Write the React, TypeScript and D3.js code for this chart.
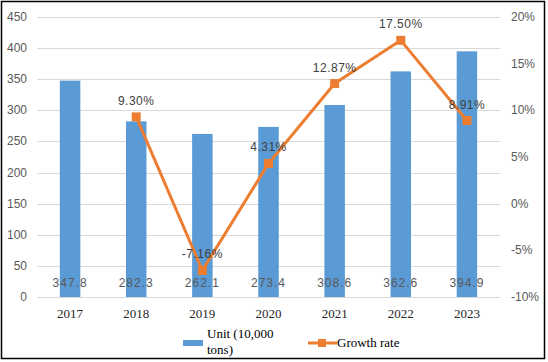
import React from 'react';
import * as d3 from 'd3';

const years = ['2017', '2018', '2019', '2020', '2021', '2022', '2023'];
const units = [347.8, 282.3, 262.1, 273.4, 308.6, 362.6, 394.9];
const growthYears = ['2018', '2019', '2020', '2021', '2022', '2023'];
const growth = [9.3, -7.16, 4.31, 12.87, 17.5, 8.91];
const leftTicks = [0, 50, 100, 150, 200, 250, 300, 350, 400, 450];
const rightTicks = [-10, -5, 0, 5, 10, 15, 20];

const width = 548;
const height = 362;
const left = 37;
const right = 500;
const top = 17;
const bottom = 297;

const barColor = '#5B9BD5';
const lineColor = '#ED7D31';
const sans = '"Liberation Sans", Arial, sans-serif';
const serif = '"Liberation Serif", "Times New Roman", serif';

const x = d3.scaleBand<string>().domain(years).range([left, right]);
const y = d3.scaleLinear().domain([0, 450]).range([bottom, top]);
const y2 = d3.scaleLinear().domain([-10, 20]).range([bottom, top]);

export default function App() {
  const gRef = React.useRef<SVGGElement>(null);

  React.useEffect(() => {
    const g = d3.select(gRef.current);
    g.selectAll('*').remove();

    // grid
    g.append('g')
      .selectAll('line')
      .data(leftTicks)
      .join('line')
      .attr('x1', left)
      .attr('x2', right)
      .attr('y1', d => Math.round(y(d)) + 0.5)
      .attr('y2', d => Math.round(y(d)) + 0.5)
      .attr('stroke', '#D9D9D9');

    // left axis labels
    g.append('g')
      .selectAll('text')
      .data(leftTicks)
      .join('text')
      .attr('x', 27)
      .attr('y', d => y(d) + 4)
      .attr('text-anchor', 'end')
      .attr('font-family', sans)
      .attr('font-size', 12)
      .attr('fill', '#595959')
      .text(d => d);

    // right axis labels
    g.append('g')
      .selectAll('text')
      .data(rightTicks)
      .join('text')
      .attr('x', 511)
      .attr('y', d => y2(d) + 4)
      .attr('font-family', sans)
      .attr('font-size', 12)
      .attr('fill', '#595959')
      .text(d => d + '%');

    const bw = x.bandwidth() * 0.31;
    const cx = (d: string) => (x(d) ?? 0) + x.bandwidth() / 2;

    g.append('g')
      .selectAll('rect')
      .data(units)
      .join('rect')
      .attr('x', (d, i) => cx(years[i]) - bw / 2)
      .attr('y', d => y(d))
      .attr('width', bw)
      .attr('height', d => bottom - y(d))
      .attr('fill', barColor);

    // bar labels
    g.append('g')
      .selectAll('text')
      .data(units)
      .join('text')
      .attr('x', (d, i) => cx(years[i]))
      .attr('y', 287)
      .attr('text-anchor', 'middle')
      .attr('font-family', sans)
      .attr('font-size', 12)
      .attr('letter-spacing', 1)
      .attr('fill', '#595959')
      .text(d => d.toFixed(1));

    // year labels
    g.append('g')
      .selectAll('text')
      .data(years)
      .join('text')
      .attr('x', d => cx(d))
      .attr('y', 318)
      .attr('text-anchor', 'middle')
      .attr('font-family', serif)
      .attr('font-size', 13)
      .attr('fill', '#262626')
      .text(d => d);

    // growth line
    const pts = growth.map((v, i) => [cx(growthYears[i]), y2(v)] as [number, number]);
    g.append('path')
      .attr('d', d3.line()(pts))
      .attr('fill', 'none')
      .attr('stroke', lineColor)
      .attr('stroke-width', 3)
      .attr('stroke-linejoin', 'round');

    g.append('g')
      .selectAll('rect')
      .data(pts)
      .join('rect')
      .attr('x', d => d[0] - 4.5)
      .attr('y', d => d[1] - 4.5)
      .attr('width', 9)
      .attr('height', 9)
      .attr('fill', lineColor);

    g.append('g')
      .selectAll('text')
      .data(growth)
      .join('text')
      .attr('x', (d, i) => pts[i][0])
      .attr('y', (d, i) => pts[i][1] - 12)
      .attr('text-anchor', 'middle')
      .attr('font-family', sans)
      .attr('font-size', 12)
      .attr('letter-spacing', 0.5)
      .attr('fill', '#404040')
      .text(d => d.toFixed(2) + '%');

    // legend
    const lg = g.append('g');
    lg.append('rect').attr('x', 183).attr('y', 340).attr('width', 20).attr('height', 6).attr('fill', barColor);
    lg.append('text').attr('x', 207).attr('y', 338).attr('font-family', serif).attr('font-size', 13).attr('fill', '#000').text('Unit (10,000');
    lg.append('text').attr('x', 207).attr('y', 354).attr('font-family', serif).attr('font-size', 13).attr('fill', '#000').text('tons)');
    lg.append('line').attr('x1', 308).attr('x2', 337).attr('y1', 343).attr('y2', 343).attr('stroke', lineColor).attr('stroke-width', 3);
    lg.append('rect').attr('x', 318).attr('y', 339).attr('width', 8).attr('height', 8).attr('fill', lineColor);
    lg.append('text').attr('x', 337).attr('y', 347).attr('font-family', serif).attr('font-size', 13).attr('fill', '#000').text('Growth rate');
  }, []);

  return (
    <svg width={width} height={height} style={{ position: 'absolute', left: 0, top: 0, background: '#fff' }}>
      <rect x={1.5} y={1.5} width={543} height={357} fill="#fff" stroke="#000" strokeWidth={1.5} />
      <g ref={gRef} />
    </svg>
  );
}
